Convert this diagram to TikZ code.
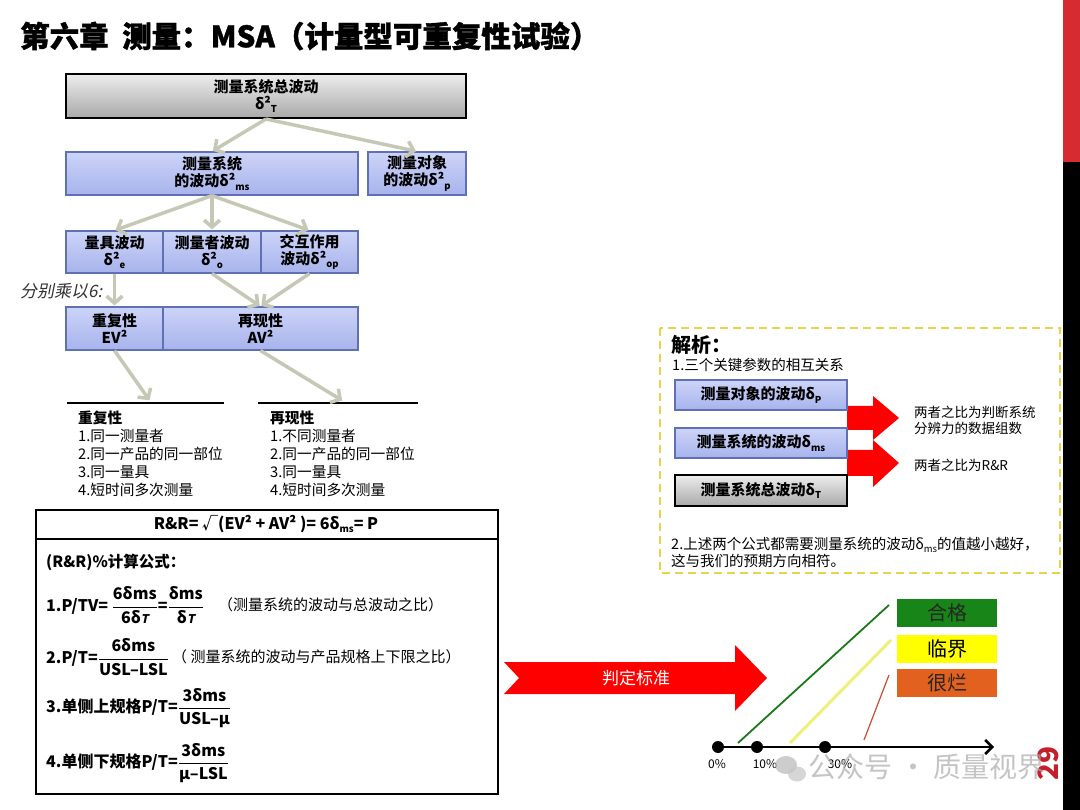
\documentclass[tikz,border=0pt]{standalone}
\usepackage{fontspec}
\setmainfont{Noto Sans CJK SC}
\newfontfamily\slantfont[FakeSlant=0.2]{Noto Sans CJK SC}
\newfontfamily\titlefont[BoldFeatures={FakeBold=1.2}]{Noto Sans CJK SC}
\usetikzlibrary{arrows.meta}
\definecolor{boxtop}{HTML}{CDD4F8}
\definecolor{boxbot}{HTML}{A7B3EC}
\definecolor{boxline}{HTML}{5F70B5}
\definecolor{graytop}{HTML}{EDEDED}
\definecolor{graybot}{HTML}{A9A9A9}
\definecolor{arrowgray}{HTML}{C5C8B5}
\definecolor{dashy}{HTML}{E8D448}
\definecolor{bigred}{HTML}{FF0000}
\definecolor{okgreen}{HTML}{188518}
\definecolor{warnyellow}{HTML}{FFFF00}
\definecolor{badorange}{HTML}{E2611F}
\definecolor{barred}{HTML}{D62B31}
\definecolor{pagered}{HTML}{C41F2A}
\definecolor{lineyellow}{HTML}{EEF07A}
\definecolor{linegreen}{HTML}{1A7A1A}
\definecolor{linebrown}{HTML}{C05030}
\newcommand\fs[1]{\fontsize{#1}{#1}\selectfont}
\newcommand\lo[1]{\raisebox{-0.45ex}{\fontsize{9.5}{9.5}\selectfont #1}}
\begin{document}
\begin{tikzpicture}[x=1pt,y=-1pt,
  bluebox/.style={draw=boxline, line width=1.2pt, top color=boxtop, bottom color=boxbot,
    inner sep=0pt, align=center, font=\bfseries\fontsize{15}{17}\selectfont},
  graybox/.style={draw=black, line width=2pt, top color=graytop, bottom color=graybot,
    inner sep=0pt, align=center, font=\bfseries\fontsize{15}{17}\selectfont},
  flow/.style={draw=arrowgray, line width=3.5pt,
    -{Straight Barb[length=7pt,width=16pt,line width=3.5pt]}, shorten >=1pt},
  listtext/.style={anchor=north west, align=left, inner sep=0pt,
    font=\fontsize{14.7}{18}\selectfont},
  formula/.style={anchor=west, inner sep=0pt, font=\bfseries\fontsize{16}{19}\selectfont},
  note/.style={anchor=west, inner sep=0pt, font=\fontsize{15}{17}\selectfont},
  judge/.style={minimum width=100pt, minimum height=28pt, inner sep=0pt,
    font=\fontsize{20}{20}\selectfont},
  dot/.style={circle, fill=black, minimum size=12pt, inner sep=0pt}
]
\useasboundingbox (0,0) rectangle (1080,810);
\fill[white] (0,0) rectangle (1080,810);

% right bar
\fill[barred] (1063,0) rectangle (1080,162);
\fill[black] (1063,162) rectangle (1080,810);

% title
\node[anchor=west, inner sep=0pt, font=\titlefont\bfseries\fs{29.5}] (title) at (20,36)
  {第六章\ \ 测量：MSA（计量型可重复性试验）};

% tree
\node[graybox, minimum width=400pt, minimum height=44pt] (tot) at (266,96)
  {测量系统总波动\\δ²\lo{T}};
\node[bluebox, minimum width=292pt, minimum height=43pt] (ms) at (212,173.5)
  {测量系统\\的波动δ²\lo{ms}};
\node[bluebox, minimum width=98pt, minimum height=43pt] (obj) at (417,173.5)
  {测量对象\\的波动δ²\lo{p}};
\node[bluebox, minimum width=97pt, minimum height=42pt] (ge) at (114.5,252)
  {量具波动\\δ²\lo{e}};
\node[bluebox, minimum width=98pt, minimum height=42pt] (go) at (212,252)
  {测量者波动\\δ²\lo{o}};
\node[bluebox, minimum width=97pt, minimum height=42pt] (gop) at (309.5,252)
  {交互作用\\波动δ²\lo{op}};
\node[bluebox, minimum width=97pt, minimum height=43pt] (ev) at (114.5,328.5)
  {重复性\\EV²};
\node[bluebox, minimum width=195pt, minimum height=43pt] (av) at (260.5,328.5)
  {再现性\\AV²};

\draw[flow] (tot.south) -- (ms.north);
\draw[flow] (tot.south) -- (obj.north);
\draw[flow] (ms.south) -- (ge.north);
\draw[flow] (ms.south) -- (go.north);
\draw[flow] (ms.south) -- (gop.north);
\draw[flow] (ge.south) -- (ev.north);
\draw[flow] (go.south) -- (av.north);
\draw[flow] (gop.south) -- (av.north);

\node[anchor=west, inner sep=0pt, text=black!80, font=\slantfont\fs{17}] (mult) at (20,291)
  {分别乘以6:};

% list lines
\draw[line width=2.5pt] (67,403) coordinate (l1a) -- (224,403) coordinate (l1b);
\draw[line width=2.5pt] (258,403) coordinate (l2a) -- (418,403) coordinate (l2b);
\coordinate (t1) at (150,401);
\coordinate (t2) at (343,401);
\draw[flow] (ev.south) -- (t1);
\draw[flow] (av.south) -- (t2);

\node[listtext] (replist) at (78,411)
  {\textbf{重复性}\\1.同一测量者\\2.同一产品的同一部位\\3.同一量具\\4.短时间多次测量};
\node[listtext] (reprolist) at (270,411)
  {\textbf{再现性}\\1.不同测量者\\2.同一产品的同一部位\\3.同一量具\\4.短时间多次测量};

% formula box
\node[draw, line width=1.5pt, minimum width=462pt, minimum height=284pt, inner sep=0pt,
  anchor=north west] (fbox) at (35,509) {};
\draw[line width=1.5pt] (fbox.north west) ++(0,30) -- ++(462,0);
\node[inner sep=0pt, font=\bfseries\fs{16}] (hdr) at (266,524)
  {R\&R= √(EV² + AV² )= 6δ\lo{ms}= P};
\node[formula, font=\bfseries\fs{15.5}] (ftitle) at (46,562) {(R\&R)\%计算公式：};
\node[formula] (f1) at (46,605)
  {1.P/TV= $\displaystyle\frac{\mbox{6δms}}{\mbox{6δ{\slantfont\fs{12}T}}}$=$\displaystyle\frac{\mbox{δms}}{\mbox{δ{\slantfont\fs{12}T}}}$};
\node[note] (n1) at (218,605) {（测量系统的波动与总波动之比）};
\node[formula] (f2) at (46,657)
  {2.P/T=$\displaystyle\frac{\mbox{6δms}}{\mbox{USL–LSL}}$};
\node[note] (n2) at (172,657) {（ 测量系统的波动与产品规格上下限之比）};
\node[formula] (f3) at (46,708)
  {3.单侧上规格P/T=$\displaystyle\frac{\mbox{3δms}}{\mbox{USL–μ}}$};
\node[formula] (f4) at (46,763)
  {4.单侧下规格P/T=$\displaystyle\frac{\mbox{3δms}}{\mbox{μ–LSL}}$};

% analysis panel
\draw[dashy, line width=2pt, dash pattern=on 8pt off 5pt] (660,328) rectangle (1060,573);
\node[anchor=west, inner sep=0pt, font=\bfseries\fs{20}] (ana) at (671,345) {解析：};
\node[anchor=west, inner sep=0pt, font=\fs{14.5}] (ana1) at (672,365) {1.三个关键参数的相互关系};
\fill[bigred] (847,406) -- (873,406) -- (873,396) -- (899,418) -- (873,440)
  -- (873,430) -- (847,430) -- cycle;
\fill[bigred] (847,450) -- (873,450) -- (873,440) -- (899,463) -- (873,487)
  -- (873,476) -- (847,476) -- cycle;
\node[bluebox, minimum width=172pt, minimum height=30pt] (bp) at (761,395)
  {测量对象的波动δ\lo{P}};
\node[bluebox, minimum width=172pt, minimum height=30pt] (bms) at (761,443)
  {测量系统的波动δ\lo{ms}};
\node[graybox, minimum width=172pt, minimum height=31pt] (bt) at (761,490.5)
  {测量系统总波动δ\lo{T}};
\node[anchor=west, align=left, inner sep=0pt, font=\fontsize{13.5}{16}\selectfont] (r1) at (914,420)
  {两者之比为判断系统\\分辨力的数据组数};
\node[anchor=west, inner sep=0pt, font=\fs{13.5}] (r2) at (914,465) {两者之比为R\&R};
\node[anchor=north west, align=left, inner sep=0pt, font=\fontsize{14.5}{17}\selectfont] (ana2) at (671,537)
  {2.上述两个公式都需要测量系统的波动δ\lo{ms}的值越小越好，\\这与我们的预期方向相符。};

% judgement arrow
\fill[bigred] (504,662) -- (735,662) -- (735,645) -- (767,678) -- (735,711)
  -- (735,694) -- (504,694) -- (519,678) -- cycle;
\node[text=white, inner sep=0pt, font=\fs{17}] (jt) at (636,678) {判定标准};

% axis
\node[dot] (d0) at (718,747) {};
\node[dot] (d10) at (757,747) {};
\node[dot] (d30) at (825,747) {};
\coordinate (axend) at (994,747);
\draw[line width=2.5pt, -{Straight Barb[length=7pt,width=14pt,line width=2.5pt]}] (d0.center) -- (axend);
\node[inner sep=0pt, font=\fs{12}] (p0) at (717,764) {0\%};
\node[inner sep=0pt, font=\fs{12}] (p10) at (765,764) {10\%};
\node[inner sep=0pt, font=\fs{12}] (p30) at (840,764) {30\%};

\node[judge, fill=okgreen, text=black!85] (ok) at (947,613) {合格};
\node[judge, fill=warnyellow, text=black] (crit) at (947,649) {临界};
\node[judge, fill=badorange, text=black!85] (bad) at (947,683) {很烂};
\draw[linegreen, line width=1.8pt] (738,743) -- (889,605);
\draw[lineyellow, line width=3pt] (790,743) -- (891,640);
\draw[linebrown, line width=1.2pt] (864,740) -- (889,675);

% page number
\node[rotate=90, inner sep=0pt, text=pagered, font=\bfseries\fs{28}] (pg) at (1048,763) {29};

% watermark
\begin{scope}[opacity=0.7]
\fill[gray!55] (786,765) ellipse (11 and 9);
\fill[gray!45] (797,774) ellipse (9 and 7.5);
\node[inner sep=0pt, text=gray!65, font=\fs{28}] (wm) at (927,767) {公众号 · 质量视界};
\end{scope}
\end{tikzpicture}
\end{document}
